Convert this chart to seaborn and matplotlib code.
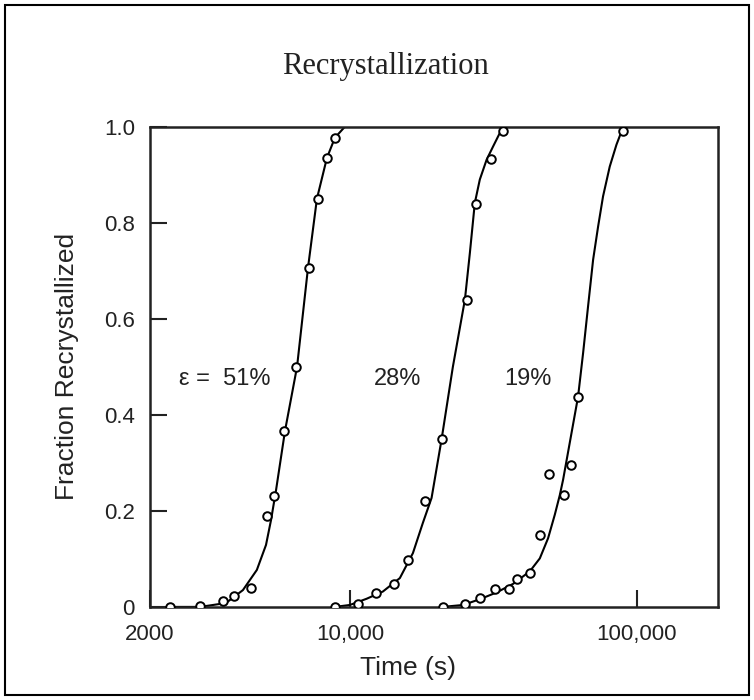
import numpy as np
import pandas as pd
import matplotlib
matplotlib.use("Agg")
import matplotlib.pyplot as plt
import seaborn as sns
from matplotlib.patches import Rectangle
from matplotlib.ticker import FixedLocator, NullLocator

t_51 = [2350, 2990, 3590, 3930, 4490, 5110, 5430, 5870, 6460, 7170, 7690, 8290, 8840]
f_51 = [0.0, 0.002, 0.013, 0.023, 0.04, 0.19, 0.23, 0.367, 0.50, 0.706, 0.85, 0.935, 0.976]

t_28 = [8840, 10670, 12290, 14240, 15930, 18220, 20840, 25480, 27460, 30900, 34020]
f_28 = [0.0, 0.006, 0.028, 0.048, 0.098, 0.22, 0.349, 0.64, 0.84, 0.933, 0.992]

t_19 = [21000, 25140, 28340, 31980, 35780, 38240, 42360, 45900, 49480, 55660, 59200, 62440, 89640]
f_19 = [0.0, 0.006, 0.018, 0.037, 0.037, 0.058, 0.071, 0.15, 0.277, 0.233, 0.296, 0.438, 0.992]

# fitted curves, vertices
ct_51 = [2350, 2990, 3680, 4220, 4720, 5080, 5290, 5510, 5920, 6520, 7120, 7650, 8290, 8840, 9580]
cf_51 = [0.0, 0.0, 0.008, 0.035, 0.077, 0.129, 0.181, 0.244, 0.367, 0.5, 0.706, 0.85, 0.935, 0.977, 1.0]

ct_28 = [8840, 9970, 11410, 13000, 14900, 16550, 17930, 19230, 20840, 22820, 25140,
         26160, 27220, 28340, 29920, 31540, 33740, 34660]
cf_28 = [0.0, 0.004, 0.017, 0.032, 0.060, 0.112, 0.175, 0.227, 0.349, 0.5, 0.64,
         0.737, 0.841, 0.89, 0.931, 0.959, 0.994, 1.0]

ct_19 = [21000, 24780, 28340, 32400, 37040, 42360, 45900, 49060, 51780, 53920, 55360, 62440,
         65020, 67660, 70460, 73340, 76320, 80540, 85000, 88500, 90880]
cf_19 = [0.0, 0.004, 0.016, 0.03, 0.048, 0.074, 0.101, 0.143, 0.192, 0.233, 0.265, 0.438,
         0.529, 0.626, 0.723, 0.792, 0.855, 0.917, 0.9625, 0.99, 1.0]

labels = ["ε =  51%", "28%", "19%"]
label_t = [3650, 14670, 41680]

x_ticks = [2000, 10000, 100000]
x_ticklabels = ["2000", "10,000", "100,000"]
y_ticks = [0, 0.2, 0.4, 0.6, 0.8, 1.0]
y_ticklabels = ["0", "0.2", "0.4", "0.6", "0.8", "1.0"]

sns.set_style("ticks")
plt.rcParams["font.family"] = ["Liberation Sans", "DejaVu Sans"]

fig = plt.figure(figsize=(7.54, 7.0), dpi=100)
ax = fig.add_axes([0.199, 0.133, 0.753, 0.686])

for ct, cf in [(ct_51, cf_51), (ct_28, cf_28), (ct_19, cf_19)]:
    sns.lineplot(x=ct, y=cf, ax=ax, color="black", linewidth=1.5, sort=False, zorder=2)

for t, f in [(t_51, f_51), (t_28, f_28), (t_19, f_19)]:
    sns.scatterplot(x=t, y=f, ax=ax, marker="o", s=38, color="white",
                    edgecolor="black", linewidth=1.4, zorder=3)

ax.set_xscale("log")
ax.set_xlim(2000, 192000)
ax.set_ylim(0, 1.0)

ax.xaxis.set_major_locator(FixedLocator(x_ticks))
ax.xaxis.set_minor_locator(NullLocator())
ax.set_xticklabels(x_ticklabels)
ax.set_yticks(y_ticks)
ax.set_yticklabels(y_ticklabels)
ax.tick_params(direction="in", length=12, width=1.5, labelsize=16, colors="#222222")
ax.tick_params(axis="x", pad=12)
ax.tick_params(axis="y", pad=11)

for s in ax.spines.values():
    s.set_visible(True)
    s.set_linewidth(1.8)
    s.set_color("#222222")

for lab, lt in zip(labels, label_t):
    ax.text(lt, 0.475, lab, ha="center", va="center", fontsize=17, color="#222222")

ax.set_xlabel("Time (s)", fontsize=19, labelpad=8, color="#222222", x=0.454)
ax.set_ylabel("Fraction Recrystallized", fontsize=19, labelpad=18, color="#222222")
ax.set_title("Recrystallization", fontsize=22, pad=38, color="#222222", x=0.414,
             family=["Liberation Serif", "DejaVu Serif"])

fig.patches.append(Rectangle((0.006, 0.007), 0.988, 0.986, transform=fig.transFigure,
                             fill=False, edgecolor="black", linewidth=1.5))

fig.savefig("out.png", dpi=100)
